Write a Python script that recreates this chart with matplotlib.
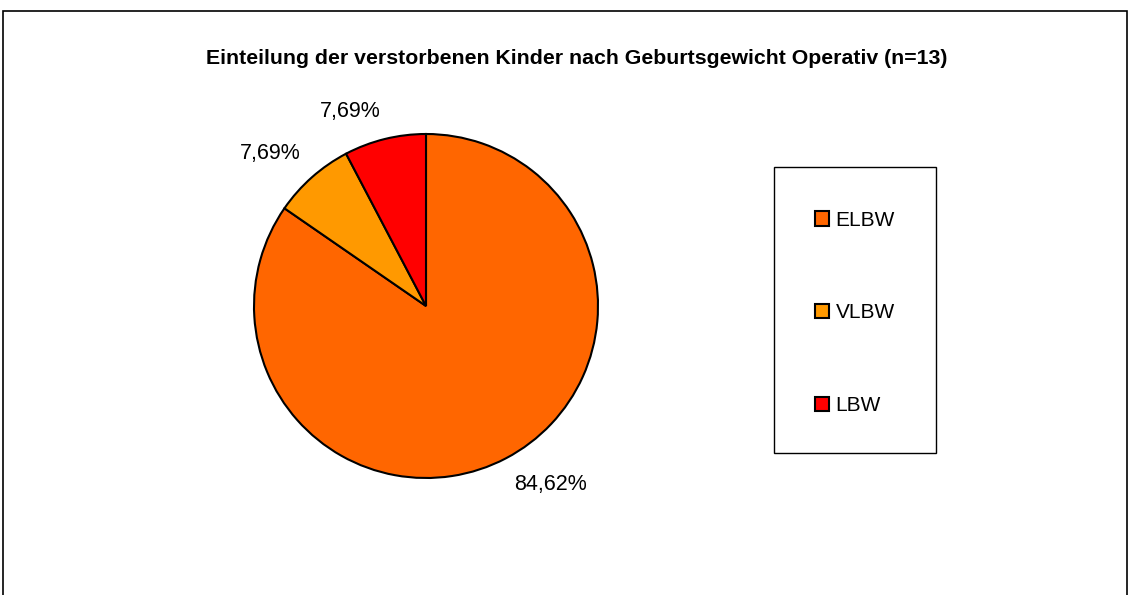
import numpy as np
import matplotlib
matplotlib.use('Agg')
import matplotlib.pyplot as plt
from matplotlib.patches import Rectangle

plt.rcParams['font.family'] = ['Liberation Sans', 'DejaVu Sans']

# data
categories = ['ELBW', 'VLBW', 'LBW']
counts = [11, 1, 1]
colors = ['#FF6600', '#FF9900', '#FF0000']
title = 'Einteilung der verstorbenen Kinder nach Geburtsgewicht Operativ (n=13)'

W, H = 1131, 595
fig = plt.figure(figsize=(W / 100, H / 100), dpi=100)
ax = fig.add_axes([0, 0, 1, 1])
ax.set_xlim(0, W)
ax.set_ylim(0, H)
ax.set_aspect('equal')
ax.axis('off')

# outer chart frame
ax.add_patch(Rectangle((3, -10), 1124, H - 11 + 10, fill=False,
                       edgecolor='black', linewidth=1.2))

def fmt(p):
    return ('%.2f%%' % p).replace('.', ',')

cx, cy, r = 426, H - 306, 172
wedges, _ = ax.pie(counts, colors=colors, startangle=90, counterclock=False,
                   center=(cx, cy), radius=r,
                   wedgeprops={'edgecolor': 'black', 'linewidth': 1.5})
ax.set_xlim(0, W)
ax.set_ylim(0, H)

# percentage labels outside the wedges, excel style
total = float(sum(counts))
for w, c in zip(wedges, counts):
    ang = np.deg2rad((w.theta1 + w.theta2) / 2.0)
    x = cx + 1.1 * r * np.cos(ang)
    y = cy + 1.1 * r * np.sin(ang)
    ha = 'left' if np.cos(ang) > 0 else 'right'
    va = 'bottom' if np.sin(ang) > 0 else 'top'
    ax.text(x, y, fmt(100.0 * c / total), ha=ha, va=va, fontsize=15.5)

ax.text(577, H - 58, title, ha='center', va='center',
        fontsize=15.3, fontweight='bold')

# legend box
ax.add_patch(Rectangle((774, H - 453), 162, 286, fill=False,
                       edgecolor='black', linewidth=1.0))
leg = ax.legend(wedges, categories, loc='center',
                bbox_to_anchor=((774 + 81) / W, (H - 313) / H),
                frameon=False, fontsize=15, labelspacing=3.55,
                handlelength=0.7, handleheight=0.7, handletextpad=0.3)

plt.savefig('out.png', dpi=100)
